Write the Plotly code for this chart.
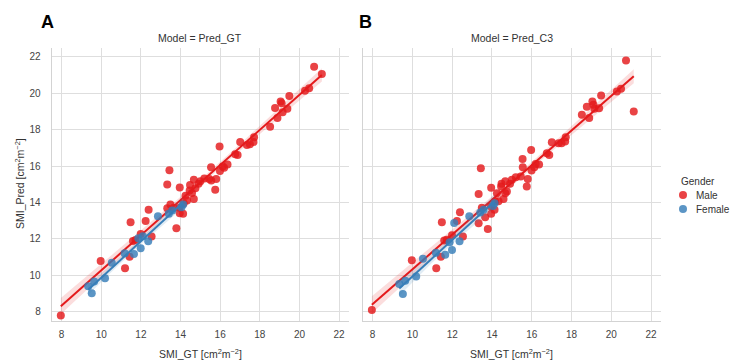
import numpy as np
import plotly.graph_objects as go

# ---------------- data ----------------
male_gt = [7.96, 9.97, 11.20, 11.43, 11.48, 11.60, 11.73, 11.99, 12.24, 12.39,
           12.54, 13.33, 13.44, 13.79, 13.96, 13.96, 14.13, 13.33, 13.49, 13.66,
           13.95, 14.16, 14.25, 14.33, 14.46, 14.48, 14.58, 14.67, 14.67, 14.75,
           14.91, 15.00, 15.20, 15.45, 15.55, 15.75, 15.80, 15.54, 15.97, 15.99,
           16.13, 16.37, 16.20, 16.76, 16.88, 17.01, 17.35, 17.50, 17.68, 17.71,
           18.52, 18.77, 18.89, 19.05, 19.10, 19.15, 19.39, 19.49, 20.28, 20.49,
           20.74, 21.13]
male_pred_gt = [7.78, 10.78, 10.38, 11.02, 12.91, 11.88, 11.93, 12.27, 12.98, 13.59,
                12.12, 14.98, 15.77, 12.58, 14.82, 13.40, 13.37, 13.68, 13.88, 13.70,
                13.70, 13.95, 14.37, 14.10, 14.65, 14.96, 14.52, 14.19, 15.24, 14.78,
                15.02, 15.16, 15.32, 15.29, 15.20, 14.69, 15.29, 15.93, 17.07, 15.73,
                15.97, 16.08, 15.90, 16.64, 16.60, 17.32, 17.16, 17.20, 17.32, 17.58,
                18.16, 19.19, 18.64, 19.54, 19.45, 18.95, 19.14, 19.85, 20.14, 20.27,
                21.46, 21.06]
male_pred_c3 = [8.09, 10.82, 10.38, 11.02, 12.91, 11.90, 11.95, 12.20, 12.98, 13.46,
                12.12, 14.46, 15.87, 12.54, 14.80, 13.37, 13.59, 12.85, 13.70, 13.18,
                13.77, 14.06, 14.50, 14.06, 14.87, 15.02, 14.19, 14.50, 15.16, 14.60,
                15.02, 15.24, 15.38, 15.42, 15.93, 14.87, 15.29, 16.39, 16.88, 15.75,
                15.93, 16.08, 16.11, 16.70, 16.60, 17.30, 17.25, 17.25, 17.35, 17.58,
                18.82, 19.26, 18.64, 19.54, 19.37, 19.14, 19.17, 19.87, 20.10, 20.24,
                21.79, 19.00]

female_gt = [9.34, 9.52, 9.64, 10.19, 10.53, 11.18, 11.65, 11.87, 11.99, 12.10,
             12.37, 12.86, 13.41, 13.58, 14.05, 14.13]
female_pred_gt = [9.39, 9.01, 9.65, 9.83, 10.69, 11.20, 11.17, 12.03, 11.48, 12.14,
                  11.86, 13.24, 13.37, 13.55, 13.73, 13.88]
female_pred_c3 = [9.52, 8.97, 9.70, 9.93, 10.90, 11.23, 11.13, 11.81, 11.39, 12.87,
                  11.86, 13.24, 13.45, 13.60, 13.80, 13.95]

panels = ["Pred_GT", "Pred_C3"]
panel_letters = ["A", "B"]
genders = ["Male", "Female"]
tick_vals = [8, 10, 12, 14, 16, 18, 20, 22]

# ---------------- style ----------------
RED = "#e41a1c"
BLUE = "#377eb8"
FONT = "Liberation Sans, Arial, sans-serif"
GRID = "#dedede"
TXT = "#333333"


def rgba(hex_color, a):
    h = hex_color.lstrip("#")
    r, g, b = int(h[0:2], 16), int(h[2:4], 16), int(h[4:6], 16)
    return f"rgba({r},{g},{b},{a})"


def t_crit(df):
    try:
        from scipy import stats
        return float(stats.t.ppf(0.975, df))
    except Exception:
        return 1.96 + 2.5 / df


def fit(x, y):
    x = np.asarray(x, float)
    y = np.asarray(y, float)
    n = len(x)
    b, a = np.polyfit(x, y, 1)
    xs = np.linspace(x.min(), x.max(), 60)
    ys = a + b * xs
    resid = y - (a + b * x)
    s = np.sqrt(np.sum(resid ** 2) / (n - 2))
    sxx = np.sum((x - x.mean()) ** 2)
    se = s * np.sqrt(1.0 / n + (xs - x.mean()) ** 2 / sxx)
    t = t_crit(n - 2)
    return xs, ys, ys - t * se, ys + t * se


fig = go.Figure()

data = {
    ("Pred_GT", "Male"): (male_gt, male_pred_gt),
    ("Pred_GT", "Female"): (female_gt, female_pred_gt),
    ("Pred_C3", "Male"): (male_gt, male_pred_c3),
    ("Pred_C3", "Female"): (female_gt, female_pred_c3),
}
colors = {"Male": RED, "Female": BLUE}

for pi, panel in enumerate(panels):
    xa = "x" if pi == 0 else "x2"
    ya = "y" if pi == 0 else "y2"
    for g in genders:
        x, y = data[(panel, g)]
        c = colors[g]
        fig.add_trace(go.Scatter(
            x=x, y=y, mode="markers", xaxis=xa, yaxis=ya,
            marker=dict(color=rgba(c, 0.82), size=8, line=dict(width=0)),
            name=g, legendgroup=g, showlegend=False, hoverinfo="x+y"))
        xs, ys, lo, hi = fit(x, y)
        fig.add_trace(go.Scatter(
            x=list(xs) + list(xs[::-1]), y=list(hi) + list(lo[::-1]),
            fill="toself", fillcolor=rgba(c, 0.15), line=dict(width=0),
            mode="lines", xaxis=xa, yaxis=ya, showlegend=False, hoverinfo="skip"))
        fig.add_trace(go.Scatter(
            x=xs, y=ys, mode="lines", xaxis=xa, yaxis=ya,
            line=dict(color=c, width=2), showlegend=False, hoverinfo="skip"))

W, H = 730, 362
y_dom = [1 - 320.7 / H, 1 - 47.7 / H]
xdomA = [51.7 / W, 349.0 / W]
xdomB = [362.7 / W, 661.0 / W]

axis_common = dict(
    range=[7.5, 22.5], tickvals=tick_vals, showgrid=True, gridcolor=GRID, gridwidth=1,
    zeroline=False, showline=True, linecolor="#d3d3d3", linewidth=1, mirror=False,
    ticks="outside", tickcolor="rgba(0,0,0,0)", automargin=False,
    tickfont=dict(family=FONT, size=10, color="#444444"),
)

fig.update_layout(
    width=W, height=H,
    margin=dict(l=0, r=0, t=0, b=0, autoexpand=False),
    paper_bgcolor="white", plot_bgcolor="white",
    xaxis=dict(domain=xdomA, anchor="y", ticklen=4, **axis_common),
    yaxis=dict(domain=y_dom, anchor="x", ticklen=8, **axis_common),
    xaxis2=dict(domain=xdomB, anchor="y2", ticklen=4, **axis_common),
    yaxis2=dict(domain=y_dom, anchor="x2", showticklabels=False, ticklen=8,
                **{k: v for k, v in axis_common.items() if k != "tickfont"}),
    showlegend=False,
    font=dict(family=FONT, color=TXT),
)

ann = []
for pi, panel in enumerate(panels):
    dom = xdomA if pi == 0 else xdomB
    cx = (dom[0] + dom[1]) / 2
    ann.append(dict(text=f"Model = {panel}", x=cx, y=1 - 38 / H, xref="paper", yref="paper",
                    xanchor="center", yanchor="middle", showarrow=False,
                    font=dict(family=FONT, size=10.5, color=TXT)))
    ann.append(dict(text="SMI_GT [cm<sup>2</sup>m<sup>\u22122</sup>]", x=cx, y=1 - 353 / H,
                    xref="paper", yref="paper", xanchor="center", yanchor="middle",
                    showarrow=False, font=dict(family=FONT, size=10.5, color=TXT)))
    ann.append(dict(text=f"<b>{panel_letters[pi]}</b>", x=(47 if pi == 0 else 365) / W,
                    y=1 - 22 / H, xref="paper", yref="paper",
                    xanchor="center", yanchor="middle", showarrow=False,
                    font=dict(family=FONT, size=18, color="#000000")))
ann.append(dict(text="SMI_Pred [cm<sup>2</sup>m<sup>\u22122</sup>]", x=19 / W, y=1 - 184 / H,
                xref="paper", yref="paper", xanchor="center", yanchor="middle",
                textangle=-90, showarrow=False, font=dict(family=FONT, size=10.5, color=TXT)))

# legend (title, markers, labels)
ann.append(dict(text="Gender", x=679 / W, y=1 - 181 / H, xref="paper", yref="paper",
                xanchor="left", yanchor="middle", showarrow=False,
                font=dict(family=FONT, size=10, color=TXT)))
shapes = []
for i, g in enumerate(genders):
    cy = 195 + 14 * i
    shapes.append(dict(type="circle", xref="paper", yref="paper",
                       x0=(683 - 4) / W, x1=(683 + 4) / W,
                       y0=1 - (cy + 4) / H, y1=1 - (cy - 4) / H,
                       fillcolor=rgba(colors[g], 0.82), line=dict(width=0)))
    ann.append(dict(text=g, x=694 / W, y=1 - cy / H, xref="paper", yref="paper",
                    xanchor="left", yanchor="middle", showarrow=False,
                    font=dict(family=FONT, size=10, color=TXT)))
fig.update_layout(annotations=ann, shapes=shapes)

fig.write_html("out.html", config={"displayModeBar": False},
               post_script="document.body.style.margin='0';document.body.style.padding='0';")
